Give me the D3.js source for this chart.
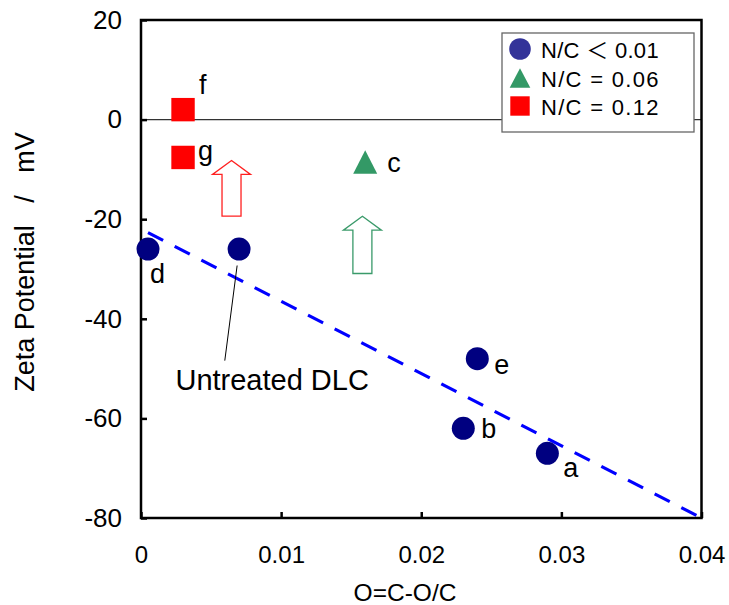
<!DOCTYPE html>
<html>
<head>
<meta charset="utf-8">
<script src="https://cdn.jsdelivr.net/npm/d3@7"></script>
<style>
  body { margin: 0; background: #fff; }
  text { font-family: Arial, "Liberation Sans", "Noto Sans CJK JP", sans-serif; fill: #000; }
</style>
</head>
<body>
<div id="chart"></div>
<script>
// N/C < 0.01 (circles)
const lowX = [0.029, 0.023, 0.0005, 0.024, 0.007];
const lowY = [-67, -62, -26, -48, -26];
const lowNames = ["a", "b", "d", "e", ""];
// N/C = 0.06 (triangle)
const midX = [0.016];
const midY = [-8.5];
const midNames = ["c"];
// N/C = 0.12 (squares)
const highX = [0.003, 0.003];
const highY = [2, -7.6];
const highNames = ["f", "g"];
// linear fit of the N/C < 0.01 group
const fitX = [0.0005, 0.04];
const fitY = [-22.7, -80];
// hollow arrows (x, tip, base)
const arrowX = [0.00646, 0.0158];
const arrowTip = [-8.2, -19.4];
const arrowBase = [-19.4, -30.9];
// leader line for "Untreated DLC"
const leaderX = [0.00686, 0.00598];
const leaderY = [-29.3, -48.4];

const xTicks = [0, 0.01, 0.02, 0.03, 0.04];
const yTicks = [20, 0, -20, -40, -60, -80];
const legendLabels = ["N/C \uFF1C 0.01", "N/C = 0.06", "N/C = 0.12"];

const WIDTH = 729, HEIGHT = 605;
const LEFT = 141, RIGHT = 701.5, TOP = 20, BOTTOM = 518;

// pixel offsets of the point letters (layout only)
const labelOffset = {
    a: [16, 24], b: [18, 10], d: [2, 34], e: [17, 15],
    c: [22, 10], f: [16, -16], g: [15, 3]
};

const svg = d3.select("#chart")
    .append("svg")
    .attr("width", WIDTH)
    .attr("height", HEIGHT);

const x = d3.scaleLinear().domain([0, 0.04]).range([LEFT, RIGHT]);
const y = d3.scaleLinear().domain([-80, 20]).range([BOTTOM, TOP]);

// zero line
svg.append("line")
    .attr("x1", x(0)).attr("x2", x(0.04))
    .attr("y1", y(0)).attr("y2", y(0))
    .attr("stroke", "#333").attr("stroke-width", 1.3);

// axes with inward ticks
const xAxis = svg.append("g")
    .attr("transform", `translate(0,${BOTTOM})`)
    .call(d3.axisBottom(x).tickValues(xTicks).tickSize(-6).tickPadding(28)
        .tickFormat(d => String(d)));
const yAxis = svg.append("g")
    .attr("transform", `translate(${LEFT},0)`)
    .call(d3.axisLeft(y).tickValues(yTicks).tickSize(-6).tickPadding(19)
        .tickFormat(d => String(d)));

[xAxis, yAxis].forEach(g => {
    g.select(".domain").remove();
    g.selectAll("line").attr("stroke", "#000").attr("stroke-width", 2.5);
    g.selectAll("text")
        .style("font-family", "Arial, 'Liberation Sans', sans-serif").attr("fill", "#000");
});
xAxis.selectAll("text").style("font-size", "24px");
yAxis.selectAll("text").style("font-size", "26px");

// frame
svg.append("rect")
    .attr("x", LEFT).attr("y", TOP)
    .attr("width", RIGHT - LEFT).attr("height", BOTTOM - TOP)
    .attr("fill", "none").attr("stroke", "#000").attr("stroke-width", 2.5);

// fit line
svg.append("line")
    .attr("x1", x(fitX[0])).attr("y1", y(fitY[0]))
    .attr("x2", x(fitX[1])).attr("y2", y(fitY[1]))
    .attr("stroke", "#0000ff").attr("stroke-width", 3.2)
    .attr("stroke-dasharray", "17,13");

// arrows
const arrowColors = ["#ff2020", "#3a9a6a"];
const arrowPath = (i) => {
    const cx = x(arrowX[i]), tip = y(arrowTip[i]), base = y(arrowBase[i]);
    const hw = 19, sw = 9.5, hl = 14;
    return `M${cx},${tip} L${cx + hw},${tip + hl} L${cx + sw},${tip + hl} L${cx + sw},${base}` +
        ` L${cx - sw},${base} L${cx - sw},${tip + hl} L${cx - hw},${tip + hl} Z`;
};
svg.selectAll(".arrow")
    .data(arrowX.map((d, i) => i))
    .join("path")
    .attr("class", "arrow")
    .attr("d", i => arrowPath(i))
    .attr("fill", "#fff")
    .attr("stroke", i => arrowColors[i])
    .attr("stroke-width", 1.3);

// leader line
svg.append("line")
    .attr("x1", x(leaderX[0])).attr("y1", y(leaderY[0]))
    .attr("x2", x(leaderX[1])).attr("y2", y(leaderY[1]))
    .attr("stroke", "#000").attr("stroke-width", 1);

svg.append("text")
    .attr("x", x(0.00936)).attr("y", y(-54.2))
    .attr("text-anchor", "middle")
    .style("font-size", "29px")
    .text("Untreated DLC");

// markers
const lowData = lowX.map((v, i) => ({ x: v, y: lowY[i], name: lowNames[i] }));
const midData = midX.map((v, i) => ({ x: v, y: midY[i], name: midNames[i] }));
const highData = highX.map((v, i) => ({ x: v, y: highY[i], name: highNames[i] }));

svg.selectAll(".low")
    .data(lowData)
    .join("circle")
    .attr("class", "low")
    .attr("cx", d => x(d.x)).attr("cy", d => y(d.y))
    .attr("r", 11.5)
    .attr("fill", "#000080");

svg.selectAll(".mid")
    .data(midData)
    .join("path")
    .attr("class", "mid")
    .attr("transform", d => `translate(${x(d.x)},${y(d.y)})`)
    .attr("d", "M0,-11.7 L12,11.7 L-12,11.7 Z")
    .attr("fill", "#339966");

svg.selectAll(".high")
    .data(highData)
    .join("rect")
    .attr("class", "high")
    .attr("x", d => x(d.x) - 11.7).attr("y", d => y(d.y) - 11.7)
    .attr("width", 23.4).attr("height", 23.4)
    .attr("fill", "#ff0000");

// point letters
svg.selectAll(".ptlabel")
    .data([...lowData, ...midData, ...highData].filter(d => d.name))
    .join("text")
    .attr("class", "ptlabel")
    .attr("x", d => x(d.x) + labelOffset[d.name][0])
    .attr("y", d => y(d.y) + labelOffset[d.name][1])
    .style("font-size", "27px")
    .text(d => d.name);

// legend
const legend = svg.append("g").attr("transform", "translate(502,33)");
legend.append("rect")
    .attr("width", 192).attr("height", 99)
    .attr("fill", "#fff").attr("stroke", "#666").attr("stroke-width", 1.3);
const rowY = [16, 45, 73];
legend.append("circle").attr("cx", 18).attr("cy", rowY[0]).attr("r", 10.8).attr("fill", "#333399");
legend.append("path").attr("transform", `translate(18,${rowY[1]})`)
    .attr("d", "M0,-9.7 L10.3,9.7 L-10.3,9.7 Z").attr("fill", "#339966");
legend.append("rect").attr("x", 18 - 9.7).attr("y", rowY[2] - 9.7)
    .attr("width", 19.4).attr("height", 19.4).attr("fill", "#ff0000");
legend.selectAll(".lg")
    .data(legendLabels)
    .join("text")
    .attr("class", "lg")
    .attr("x", 39)
    .attr("y", (d, i) => rowY[i] + 8.5)
    .style("font-size", "22px")
    .style("letter-spacing", (d, i) => i === 0 ? "0.3px" : "1.3px")
    .text(d => d);

// axis titles
svg.append("text")
    .attr("x", 405).attr("y", 601)
    .attr("text-anchor", "middle")
    .style("font-size", "24.5px")
    .text("O=C-O/C");
svg.append("text")
    .attr("transform", "translate(34,262) rotate(-90)")
    .attr("text-anchor", "middle")
    .style("font-size", "27px")
    .style("white-space", "pre")
    .text("Zeta Potential   /   mV");
</script>
</body>
</html>
